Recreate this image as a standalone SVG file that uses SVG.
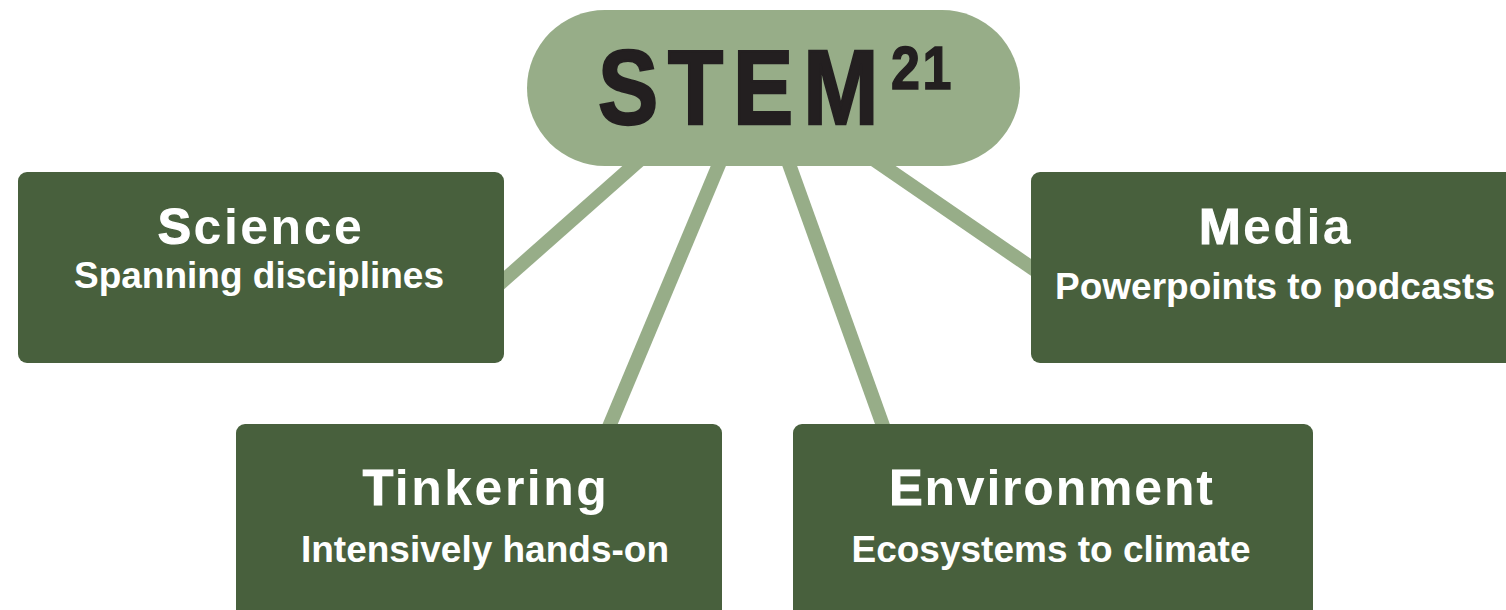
<svg xmlns="http://www.w3.org/2000/svg" width="1506" height="610" viewBox="0 0 1506 610">
<style>
.box{fill:#48603D}
.pill{fill:#97AD88}
.conn{stroke:#97AD88;stroke-width:14;fill:none}
.title{font-family:"Liberation Sans",Arial,sans-serif;font-weight:bold;font-size:50px;fill:#fff;letter-spacing:2.5px;text-anchor:middle}
.first{stroke:#fff;stroke-width:1.2}
.sub{font-family:"Liberation Sans",Arial,sans-serif;font-weight:bold;font-size:37px;fill:#fff;text-anchor:middle}
.logo{font-family:"Liberation Sans",Arial,sans-serif;font-weight:bold;fill:#231F20;stroke:#231F20}
</style>
<rect width="1506" height="610" fill="#fff"/>
<g id="connectors">
<line class="conn" x1="651" y1="150" x2="495" y2="288"/>
<line class="conn" x1="725" y1="150" x2="606" y2="434"/>
<line class="conn" x1="784" y1="150" x2="886" y2="434"/>
<line class="conn" x1="860" y1="150" x2="1045" y2="277"/>
</g>
<g id="stem">
<rect class="pill" x="527" y="10" width="493" height="156" rx="78"/>
<text class="logo" transform="translate(598,124) scale(0.86,1)" x="0" y="0" font-size="105" stroke-width="2.5" textLength="326" lengthAdjust="spacing">STEM</text>
<text class="logo" transform="translate(891,89) scale(0.84,1)" x="0" y="0" font-size="62" stroke-width="1.5" letter-spacing="3">21</text>
</g>
<g id="science">
<rect class="box" x="18" y="172" width="486" height="191" rx="9"/>
<text class="title" x="261" y="244"><tspan class="first">S</tspan>cience</text>
<text class="sub" x="259" y="288">Spanning disciplines</text>
</g>
<g id="media">
<rect class="box" x="1031" y="172" width="490" height="191" rx="9"/>
<text class="title" x="1276" y="244"><tspan class="first">M</tspan>edia</text>
<text class="sub" x="1275" y="299">Powerpoints to podcasts</text>
</g>
<g id="tinkering">
<rect class="box" x="236" y="424" width="486" height="200" rx="9"/>
<text class="title" x="486" y="505"><tspan class="first">T</tspan>inkering</text>
<text class="sub" x="485" y="562">Intensively hands-on</text>
</g>
<g id="environment">
<rect class="box" x="793" y="424" width="520" height="200" rx="9"/>
<text class="title" x="1052" y="505" style="letter-spacing:1.8px"><tspan class="first">E</tspan>nvironment</text>
<text class="sub" x="1051" y="562">Ecosystems to climate</text>
</g>
</svg>
